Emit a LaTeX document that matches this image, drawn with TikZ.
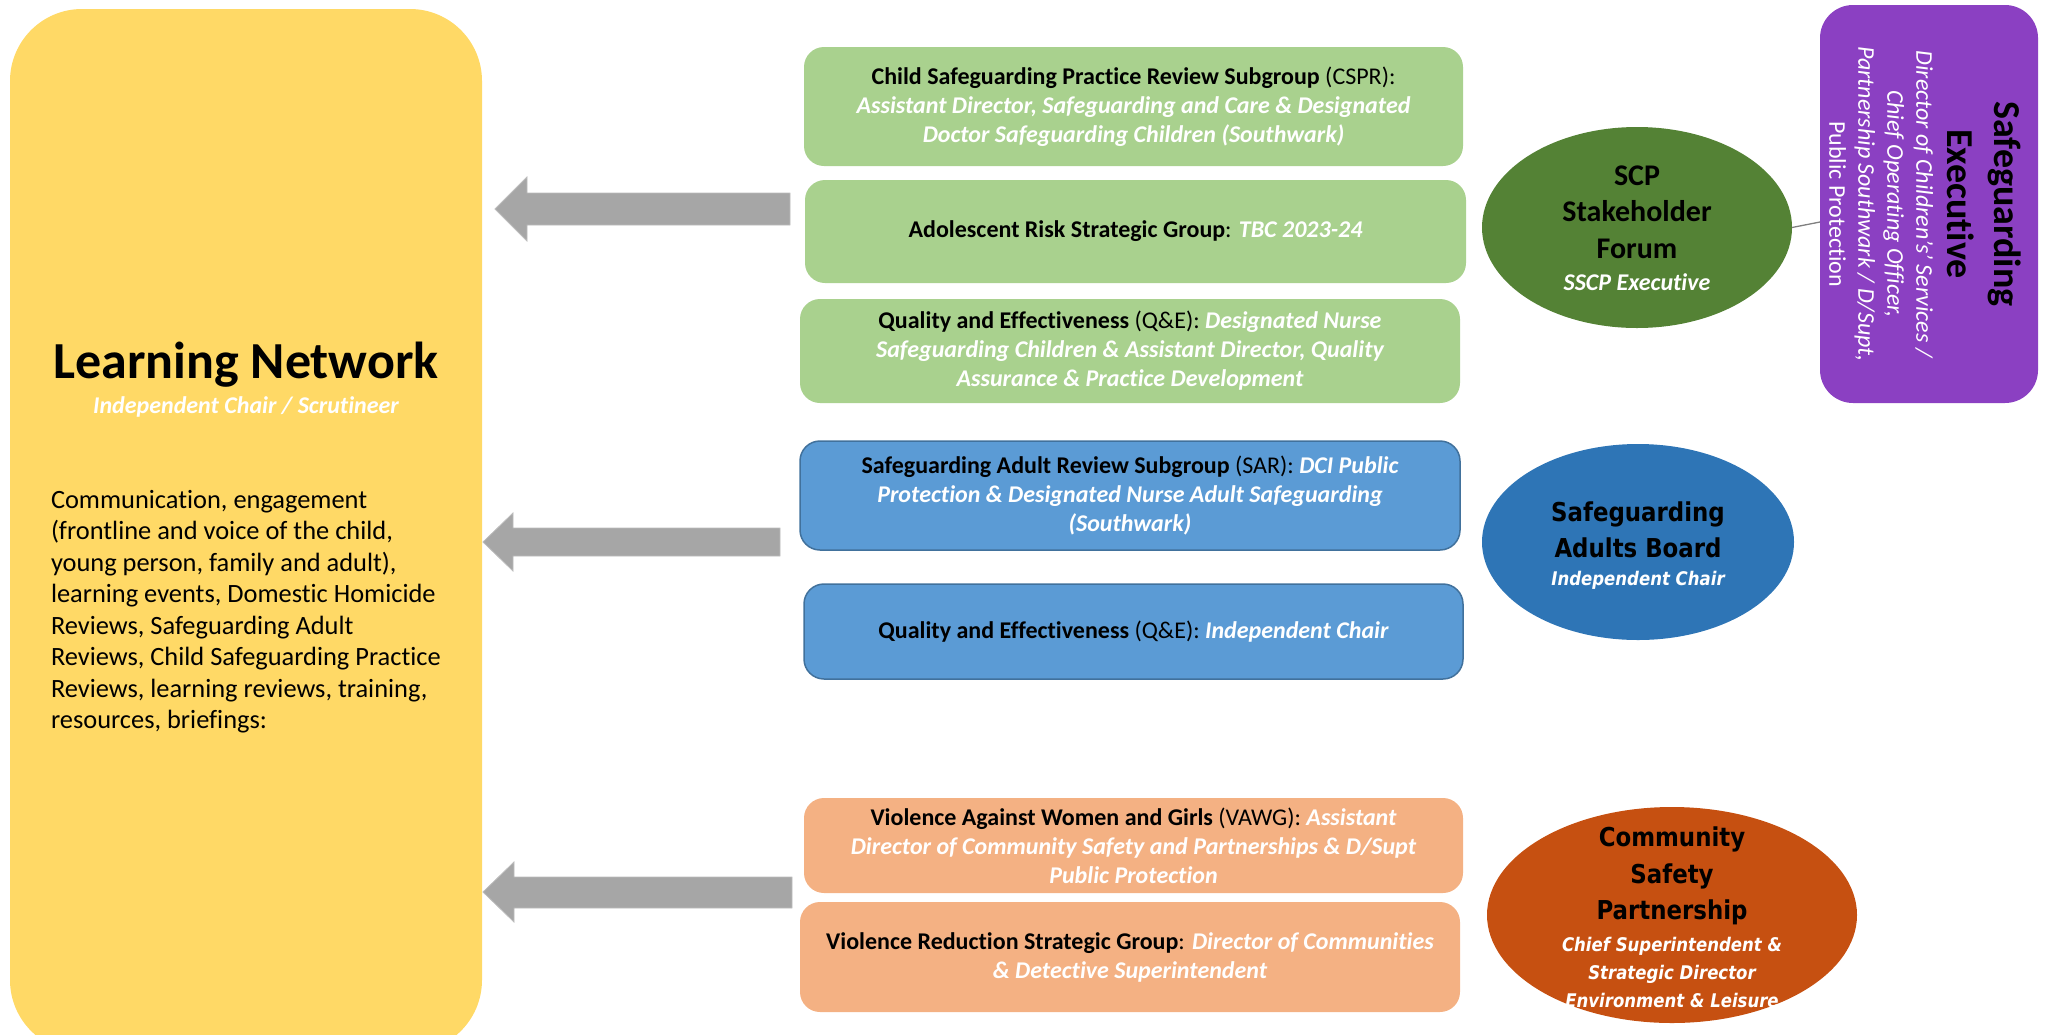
\documentclass[tikz,border=0pt]{standalone}
\usepackage{fontspec}
\setmainfont{Carlito}[Ligatures=NoCommon]
\newfontfamily\tahoma[FakeStretch=0.88]{DejaVu Sans}
\usetikzlibrary{shapes.geometric}

\definecolor{lnyellow}{HTML}{FFD966}
\definecolor{sgreen}{HTML}{A9D18E}
\definecolor{dgreen}{HTML}{548235}
\definecolor{sblue}{HTML}{5B9BD5}
\definecolor{bblue}{HTML}{41719C}
\definecolor{dblue}{HTML}{2E75B6}
\definecolor{sorange}{HTML}{F4B183}
\definecolor{dorange}{HTML}{C65011}
\definecolor{purp}{HTML}{8B40C2}
\definecolor{agray}{HTML}{A6A6A6}
\definecolor{lgray}{HTML}{7F7F7F}

\newcommand{\wi}[1]{\textcolor{white}{\bfseries\itshape #1}}

\begin{document}
\begin{tikzpicture}[x=1pt,y=-1pt,
  every node/.style={inner sep=0pt, outer sep=0pt},
  subbox/.style={rectangle, rounded corners=20pt, align=center, font=\fontsize{24}{29}\selectfont},
  greenbox/.style={subbox, fill=sgreen},
  bluebox/.style={subbox, fill=sblue, draw=bblue, line width=1.5pt},
  orangebox/.style={subbox, fill=sorange},
  blockarrow/.style={fill=agray, draw=agray!75!white, line width=0.8pt},
  boardtitle/.style={font=\tahoma\fontsize{26}{36.5}\selectfont\bfseries, align=center},
  boardsub/.style={font=\tahoma\fontsize{18.8}{28}\selectfont\bfseries\itshape, text=white, align=center},
  connector/.style={draw=lgray, line width=1.3pt}
]
\useasboundingbox (0,0) rectangle (2047,1034);
\clip (0,0) rectangle (2047,1034);

% Learning Network
\node[rectangle, rounded corners=72pt, fill=lnyellow, minimum width=472, minimum height=1043] (ln) at (246,530.5) {};
\node[font=\fontsize{52}{62}\selectfont\bfseries, anchor=base] (lntitle) at (246,378) {Learning Network};
\node[font=\fontsize{24}{29}\selectfont\bfseries\itshape, text=white, anchor=base] (lnchair) at (246,413) {Independent Chair / Scrutineer};
\node[font=\fontsize{26.4}{31.5}\selectfont, align=left, anchor=north west] (lnbody) at (51,490) {Communication, engagement\\
(frontline and voice of the child,\\
young person, family and adult),\\
learning events, Domestic Homicide\\
Reviews, Safeguarding Adult\\
Reviews, Child Safeguarding Practice\\
Reviews, learning reviews, training,\\
resources, briefings:};

% block arrows
\path[blockarrow] (495,209) -- (527,177) -- (527,193) -- (790,193) -- (790,225) -- (527,225) -- (527,241) -- cycle;
\path[blockarrow] (483,542) -- (513,513) -- (513,528) -- (780,528) -- (780,556) -- (513,556) -- (513,571) -- cycle;
\path[blockarrow] (483,892) -- (514,862) -- (514,877) -- (792,877) -- (792,908) -- (514,908) -- (514,922) -- cycle;

% green boxes
\node[greenbox, minimum width=659, minimum height=119] (cspr) at (1133.5,106.5)
 {\textbf{Child Safeguarding Practice Review Subgroup} (CSPR):\\
  \wi{Assistant Director, Safeguarding and Care \& Designated}\\
  \wi{Doctor Safeguarding Children (Southwark)}};
\node[greenbox, minimum width=661, minimum height=103] (arsg) at (1135.5,231.5)
 {\textbf{Adolescent Risk Strategic Group}: \wi{TBC 2023-24}};
\node[greenbox, minimum width=660, minimum height=104] (qeg) at (1130,351)
 {\textbf{Quality and Effectiveness} (Q\&E): \wi{Designated Nurse}\\
  \wi{Safeguarding Children \& Assistant Director, Quality}\\
  \wi{Assurance \& Practice Development}};

% blue boxes
\node[bluebox, minimum width=660, minimum height=109] (sar) at (1130,495.5)
 {\textbf{Safeguarding Adult Review Subgroup} (SAR): \wi{DCI Public}\\
  \wi{Protection \& Designated Nurse Adult Safeguarding}\\
  \wi{(Southwark)}};
\node[bluebox, minimum width=659, minimum height=95] (qeb) at (1133.5,631.5)
 {\textbf{Quality and Effectiveness} (Q\&E): \wi{Independent Chair}};

% orange boxes
\node[orangebox, minimum width=659, minimum height=95] (vawg) at (1133.5,845.5)
 {\textbf{Violence Against Women and Girls} (VAWG): \wi{Assistant}\\
  \wi{Director of Community Safety and Partnerships \& D/Supt}\\
  \wi{Public Protection}};
\node[orangebox, minimum width=660, minimum height=110] (vr) at (1130,957)
 {\textbf{Violence Reduction Strategic Group}: \wi{Director of Communities}\\
  \wi{\& Detective Superintendent}};

% SCP Stakeholder Forum
\node[ellipse, fill=dgreen, minimum width=310, minimum height=201] (scp) at (1637,227.5) {};
\node[font=\fontsize{30}{36.5}\selectfont\bfseries, align=center] (scpt) at (1637,212) {SCP\\Stakeholder\\Forum};
\node[font=\fontsize{24}{29}\selectfont\bfseries\itshape, text=white, anchor=base] (scps) at (1637,290) {SSCP Executive};

% Safeguarding Executive
\node[rectangle, rounded corners=33pt, fill=purp, minimum width=218, minimum height=398] (exec) at (1929,204) {};
\node[rotate=-90, font=\fontsize{38}{47}\selectfont\bfseries, align=center] (exect) at (1984,204) {Safeguarding\\Executive};
\node[rotate=-90, font=\fontsize{24}{29}\selectfont, text=white, align=center] (execs) at (1881,204)
 {\itshape Director of Children’s’ Services /\\
  \itshape Chief Operating Officer,\\
  \itshape Partnership Southwark / D/Supt,\\
  Public Protection};
\draw[connector] (scp.east) -- ([yshift=-18pt]exec.west);

% Safeguarding Adults Board
\node[ellipse, fill=dblue, minimum width=312, minimum height=196] (sab) at (1638,542) {};
\node[boardtitle] (sabt) at (1638,530) {Safeguarding\\Adults Board};
\node[boardsub] (sabs) at (1638,580) {Independent Chair};

% Community Safety Partnership
\node[ellipse, fill=dorange, minimum width=370, minimum height=216] (csp) at (1672,915) {};
\node[boardtitle] (cspt) at (1672,876) {Community\\Safety\\Partnership};
\node[boardsub] (csps) at (1672,972) {Chief Superintendent \&\\Strategic Director\\Environment \& Leisure};
\end{tikzpicture}
\end{document}
